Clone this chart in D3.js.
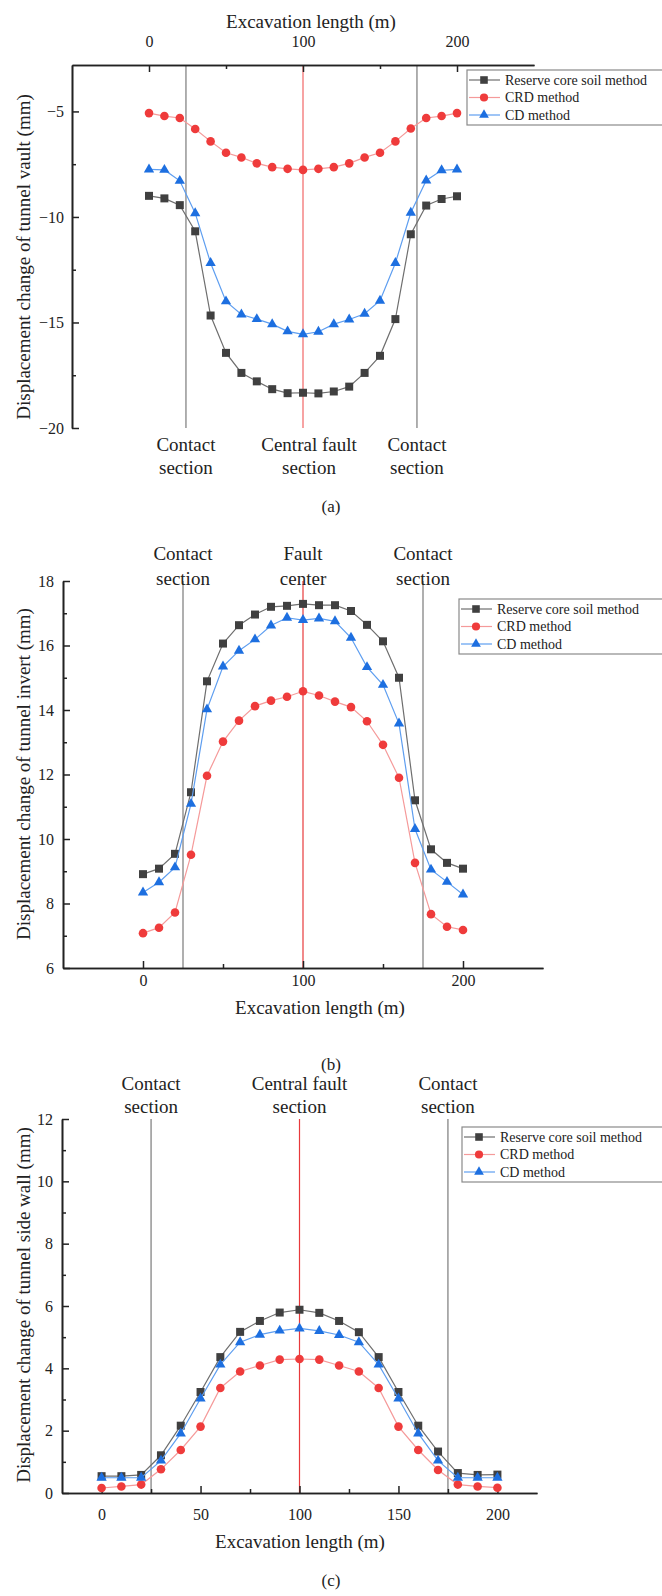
<!DOCTYPE html>
<html>
<head>
<script src="https://d3js.org/d3.v7.min.js"></script>
<style>
  body { margin: 0; background: #fff; }
  svg text { font-family: "Liberation Serif", "Times New Roman", serif; fill: #222; }
</style>
</head>
<body>
<svg id="chart" width="662" height="1596"></svg>
<script>
// excavation positions (m)
var lengths = [0, 10, 20, 30, 40, 50, 60, 70, 80, 90, 100, 110, 120, 130, 140, 150, 160, 170, 180, 190, 200];
var methods = ["Reserve core soil method", "CRD method", "CD method"];

// (a) tunnel vault
var vaultCore = [-9.0, -9.12, -9.44, -10.68, -14.67, -16.44, -17.39, -17.79, -18.16, -18.35, -18.33, -18.36, -18.27, -18.04, -17.39, -16.58, -14.84, -10.82, -9.46, -9.15, -9.02];
var vaultCRD  = [-5.08, -5.22, -5.31, -5.83, -6.42, -6.96, -7.18, -7.46, -7.64, -7.72, -7.77, -7.72, -7.64, -7.46, -7.18, -6.96, -6.42, -5.81, -5.31, -5.22, -5.08];
var vaultCD   = [-7.75, -7.77, -8.29, -9.82, -12.18, -14.0, -14.62, -14.84, -15.08, -15.42, -15.56, -15.44, -15.08, -14.86, -14.59, -13.97, -12.18, -9.8, -8.27, -7.79, -7.75];

// (b) tunnel invert
var invertCore = [8.91, 9.08, 9.54, 11.45, 14.89, 16.06, 16.63, 16.96, 17.2, 17.23, 17.29, 17.25, 17.25, 17.07, 16.64, 16.13, 15.0, 11.2, 9.68, 9.26, 9.08];
var invertCRD  = [7.08, 7.25, 7.72, 9.51, 11.96, 13.02, 13.67, 14.12, 14.29, 14.41, 14.58, 14.45, 14.26, 14.09, 13.65, 12.92, 11.9, 9.26, 7.67, 7.28, 7.18];
var invertCD   = [8.34, 8.66, 9.12, 11.09, 14.02, 15.35, 15.84, 16.19, 16.62, 16.86, 16.79, 16.84, 16.75, 16.24, 15.33, 14.78, 13.58, 10.31, 9.05, 8.67, 8.28];

// (c) tunnel side wall
var sideCore = [0.54, 0.54, 0.58, 1.21, 2.16, 3.24, 4.36, 5.17, 5.52, 5.79, 5.88, 5.78, 5.52, 5.16, 4.36, 3.24, 2.16, 1.33, 0.64, 0.58, 0.59];
var sideCRD  = [0.16, 0.21, 0.27, 0.76, 1.38, 2.13, 3.37, 3.9, 4.09, 4.28, 4.3, 4.28, 4.09, 3.9, 3.37, 2.13, 1.38, 0.74, 0.27, 0.21, 0.17];
var sideCD   = [0.49, 0.49, 0.49, 1.04, 1.91, 3.03, 4.12, 4.84, 5.08, 5.21, 5.28, 5.2, 5.07, 4.84, 4.12, 3.03, 1.91, 1.04, 0.49, 0.49, 0.49];

var styles = [
  {line: "#6e6e6e", fill: "#404040", shape: d3.symbolSquare, size: 64},
  {line: "#f59a9a", fill: "#ef3b3b", shape: d3.symbolCircle, size: 58},
  {line: "#5e9ef0", fill: "#1d6fe0", shape: d3.symbolTriangle, size: 46}
];

var svg = d3.select("#chart");

function drawPanel(p) {
  var g = svg.append("g");
  var x = d3.scaleLinear().domain(p.xDomain).range(p.xRange);
  var y = d3.scaleLinear().domain(p.yDomain).range(p.yRange);
  var x0 = p.xRange[0], yTop = p.yRange[1], yBot = p.yRange[0];

  // reference lines
  p.contacts.forEach(function(c) {
    g.append("line").attr("x1", x(c)).attr("x2", x(c)).attr("y1", yTop).attr("y2", yBot)
      .attr("stroke", "#7a7a7a").attr("stroke-width", 1.2);
  });
  g.append("line").attr("x1", x(100)).attr("x2", x(100)).attr("y1", yTop).attr("y2", yBot)
    .attr("stroke", p.centerColor).attr("stroke-width", p.centerWidth);

  // axes
  var xAxisY = p.xTop ? yTop : yBot;
  var xAx = p.xTop ? d3.axisTop(x) : d3.axisBottom(x);
  g.append("g").attr("class", "ax").attr("transform", "translate(0," + xAxisY + ")")
    .call(xAx.tickValues(p.xMinor).tickSizeInner(-4).tickSizeOuter(0).tickFormat(""));
  g.append("g").attr("class", "ax").attr("transform", "translate(0," + xAxisY + ")")
    .call((p.xTop ? d3.axisTop(x) : d3.axisBottom(x)).tickValues(p.xMajor)
      .tickSizeInner(-7).tickSizeOuter(0).tickPadding(p.xPad)
      .tickFormat(d3.format("d")));
  g.append("g").attr("class", "ax").attr("transform", "translate(" + x0 + ",0)")
    .call(d3.axisLeft(y).tickValues(p.yMinor).tickSizeInner(-4).tickSizeOuter(0).tickFormat(""));
  g.append("g").attr("class", "ax").attr("transform", "translate(" + x0 + ",0)")
    .call(d3.axisLeft(y).tickValues(p.yMajor).tickSizeInner(-7).tickSizeOuter(0).tickPadding(p.yPad)
      .tickFormat(function(d) { return d < 0 ? "\u2212" + Math.abs(d) : d; }));
  g.selectAll(".ax path").attr("stroke", "#222").attr("stroke-width", 1.6);
  g.selectAll(".ax line").attr("stroke", "#222").attr("stroke-width", 1.5);
  g.selectAll(".ax text").style("font-size", "16px").attr("fill", "#333");

  // series
  var lineGen = d3.line().x(function(d) { return x(d[0]); }).y(function(d) { return y(d[1]); });
  p.series.forEach(function(vals, i) {
    var pts = lengths.map(function(l, k) { return [l, vals[k]]; });
    var st = styles[i];
    g.append("path").datum(pts).attr("d", lineGen).attr("fill", "none")
      .attr("stroke", st.line).attr("stroke-width", 1.2);
    g.selectAll(null).data(pts).enter().append("path")
      .attr("d", d3.symbol().type(st.shape).size(st.size))
      .attr("transform", function(d) { return "translate(" + x(d[0]) + "," + y(d[1]) + ")"; })
      .attr("fill", st.fill);
  });

  // annotations
  p.notes.forEach(function(n) {
    n.lines.forEach(function(t, k) {
      g.append("text").attr("x", x(n.at) + (n.dx || 0)).attr("y", p.noteY[k]).attr("dy", "0.35em")
        .attr("text-anchor", "middle").style("font-size", "19px").text(t);
    });
  });

  // axis titles
  g.append("text").attr("x", p.xTitlePos[0]).attr("y", p.xTitlePos[1]).attr("dy", "0.35em")
    .attr("text-anchor", "middle").style("font-size", "19px").text("Excavation length (m)");
  g.append("text").attr("transform", "translate(" + 23 + "," + p.yTitleY + ") rotate(-90)")
    .attr("dy", "0.35em").attr("text-anchor", "middle").style("font-size", "19px").text(p.yTitle);
  g.append("text").attr("x", 331).attr("y", p.captionY).attr("dy", "0.35em")
    .attr("text-anchor", "middle").style("font-size", "17px").text(p.caption);

  // legend
  var lg = g.append("g").attr("transform", "translate(" + p.legend[0] + "," + p.legend[1] + ")");
  lg.append("rect").attr("x", 0).attr("y", 0).attr("width", 230).attr("height", 55)
    .attr("fill", "#fff").attr("stroke", "#8a8a8a").attr("stroke-width", 1.2);
  methods.forEach(function(m, i) {
    var st = styles[i], yy = 10 + i * 17.5;
    lg.append("line").attr("x1", 2).attr("x2", 33).attr("y1", yy).attr("y2", yy)
      .attr("stroke", st.line).attr("stroke-width", 1.2);
    lg.append("path").attr("d", d3.symbol().type(st.shape).size(st.size * 0.9))
      .attr("transform", "translate(17," + yy + ")").attr("fill", st.fill);
    lg.append("text").attr("x", 38).attr("y", yy).attr("dy", "0.35em")
      .style("font-size", "14px").text(m);
  });
}

drawPanel({
  xDomain: [-50, 250], xRange: [72, 534], yDomain: [-20, -2.8], yRange: [428, 65],
  xTop: true, xMajor: [0, 100, 200], xMinor: [50, 150], xPad: 18,
  yMajor: [-5, -10, -15, -20], yMinor: [-7.5, -12.5, -17.5], yPad: 8,
  contacts: [24, 174], centerColor: "#f7a3a3", centerWidth: 2,
  series: [vaultCore, vaultCRD, vaultCD],
  notes: [{at: 24, lines: ["Contact", "section"]}, {at: 100, dx: 6, lines: ["Central fault", "section"]}, {at: 174, lines: ["Contact", "section"]}],
  noteY: [444, 467],
  xTitlePos: [311, 21], yTitle: "Displacement change of tunnel vault (mm)", yTitleY: 257,
  caption: "(a)", captionY: 506, legend: [467, 70]
});

drawPanel({
  xDomain: [-50, 250], xRange: [63, 543], yDomain: [6, 18], yRange: [968, 581],
  xTop: false, xMajor: [0, 100, 200], xMinor: [50, 150], xPad: 7,
  yMajor: [6, 8, 10, 12, 14, 16, 18], yMinor: [7, 9, 11, 13, 15, 17], yPad: 9,
  contacts: [25, 175], centerColor: "#e8393b", centerWidth: 1.2,
  series: [invertCore, invertCRD, invertCD],
  notes: [{at: 25, lines: ["Contact", "section"]}, {at: 100, lines: ["Fault", "center"]}, {at: 175, lines: ["Contact", "section"]}],
  noteY: [553, 578],
  xTitlePos: [320, 1007], yTitle: "Displacement change of tunnel invert (mm)", yTitleY: 774,
  caption: "(b)", captionY: 1064, legend: [459, 599]
});

drawPanel({
  xDomain: [-20, 220], xRange: [62, 537], yDomain: [0, 12], yRange: [1493, 1119],
  xTop: false, xMajor: [0, 50, 100, 150, 200], xMinor: [25, 75, 125, 175], xPad: 16,
  yMajor: [0, 2, 4, 6, 8, 10, 12], yMinor: [1, 3, 5, 7, 9, 11], yPad: 9,
  contacts: [25, 175], centerColor: "#e8393b", centerWidth: 1.2,
  series: [sideCore, sideCRD, sideCD],
  notes: [{at: 25, lines: ["Contact", "section"]}, {at: 100, lines: ["Central fault", "section"]}, {at: 175, lines: ["Contact", "section"]}],
  noteY: [1083, 1106],
  xTitlePos: [300, 1541], yTitle: "Displacement change of tunnel side wall (mm)", yTitleY: 1305,
  caption: "(c)", captionY: 1580, legend: [462, 1127]
});
</script>
</body>
</html>
